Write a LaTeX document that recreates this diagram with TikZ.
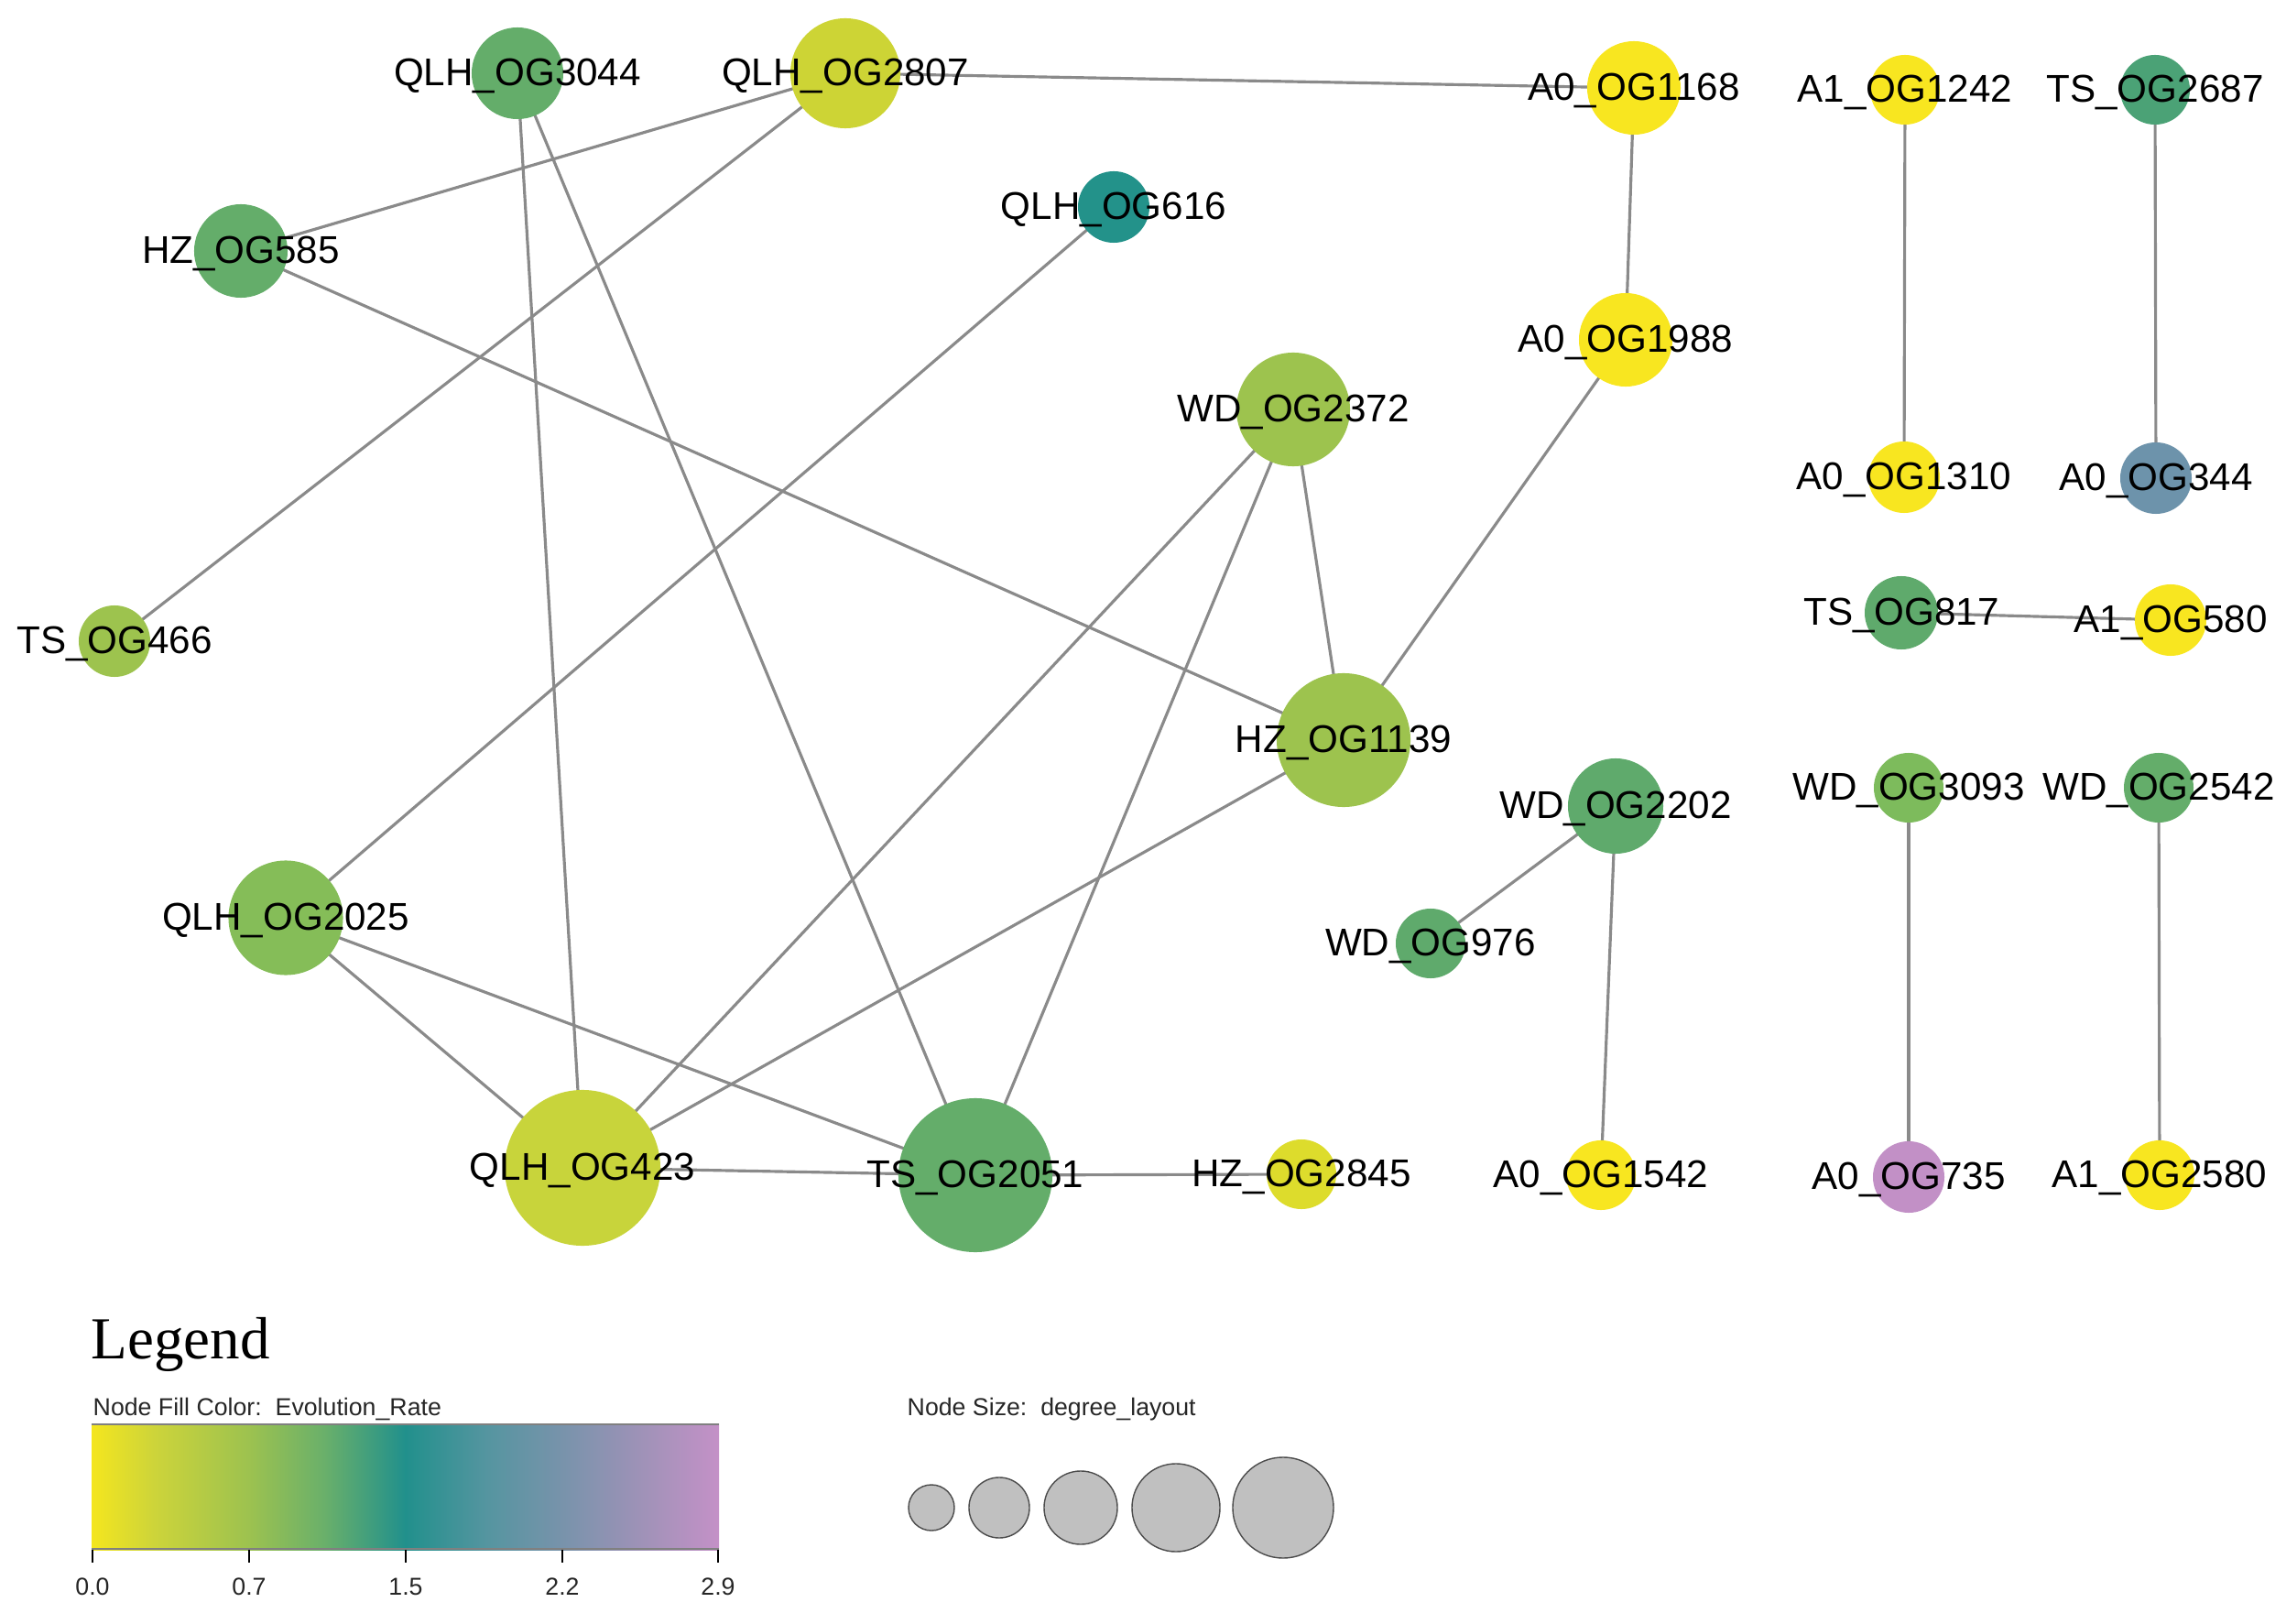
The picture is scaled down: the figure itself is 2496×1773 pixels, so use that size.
\documentclass[tikz,border=0pt]{standalone}
\usepackage{fontspec}
\setmainfont{Liberation Sans}
\newfontfamily\legserif{Liberation Serif}
\usetikzlibrary{backgrounds}
\definecolor{cyel}{HTML}{F8E620}
\definecolor{cyg}{HTML}{CDD435}
\definecolor{cyg2}{HTML}{C8D43B}
\definecolor{cyg3}{HTML}{DDDC2C}
\definecolor{clg}{HTML}{9DC34E}
\definecolor{clg2}{HTML}{85BD58}
\definecolor{clg3}{HTML}{7DBB5C}
\definecolor{cmg}{HTML}{64AD6A}
\definecolor{cmg2}{HTML}{5FAA6C}
\definecolor{ctg}{HTML}{4BA276}
\definecolor{cteal}{HTML}{23928A}
\definecolor{cblue}{HTML}{6D93AB}
\definecolor{cpink}{HTML}{C290C6}
\definecolor{cedge}{HTML}{8A8A8A}
\definecolor{e0}{HTML}{F4E61E}
\definecolor{e1}{HTML}{CDD43A}
\definecolor{e2}{HTML}{9DC24F}
\definecolor{e3}{HTML}{6AB06A}
\definecolor{e4}{HTML}{21908C}
\definecolor{e5}{HTML}{5595A0}
\definecolor{e6}{HTML}{7893AB}
\definecolor{e7}{HTML}{A092B8}
\definecolor{e8}{HTML}{C491C7}
\pgfdeclarehorizontalshading{evoshade}{100bp}{color(0bp)=(e0); color(25bp)=(e0); color(30bp)=(e1); color(37.5bp)=(e2); color(43.5bp)=(e3); color(50bp)=(e4); color(56.5bp)=(e5); color(62.5bp)=(e6); color(69bp)=(e7); color(75bp)=(e8); color(100bp)=(e8)}
\tikzset{
  nd/.style={circle, inner sep=0pt, draw=none},
  lab/.style={font=\fontsize{12}{14}\selectfont, text=black, inner sep=0pt, yshift=-0.03cm},
  edge/.style={draw=cedge, line width=0.9pt},
  small/.style={font=\fontsize{7.6}{9}\selectfont, text=black!85, inner sep=0pt},
  sizec/.style={circle, inner sep=0pt, fill={rgb,255:red,192;green,192;blue,192}, draw=black!70, line width=0.4pt},
}
\begin{document}
\begin{tikzpicture}[x=0.01cm, y=-0.01cm]
\useasboundingbox (0,0) rectangle (2496,1773);
% nodes
\node[nd, minimum size=1.0cm, fill=cmg] (q3044) at (565,80) {};
\node[nd, minimum size=1.2cm, fill=cyg] (q2807) at (923,80) {};
\node[nd, minimum size=1.02cm, fill=cyel] (a1168) at (1784,96) {};
\node[nd, minimum size=0.76cm, fill=cyel] (a1242) at (2080,98) {};
\node[nd, minimum size=0.76cm, fill=ctg] (t2687) at (2353,98) {};
\node[nd, minimum size=0.78cm, fill=cteal] (q616) at (1216,226) {};
\node[nd, minimum size=1.02cm, fill=cmg] (h585) at (263,274) {};
\node[nd, minimum size=1.02cm, fill=cyel] (a1988) at (1775,371) {};
\node[nd, minimum size=1.24cm, fill=clg] (w2372) at (1412,447) {};
\node[nd, minimum size=0.78cm, fill=cyel] (a1310) at (2079,521) {};
\node[nd, minimum size=0.78cm, fill=cblue] (a344) at (2354,522) {};
\node[nd, minimum size=0.78cm, fill=clg] (t466) at (125,700) {};
\node[nd, minimum size=0.8cm, fill=cmg2] (t817) at (2076,669) {};
\node[nd, minimum size=0.78cm, fill=cyel] (a580) at (2370,677) {};
\node[nd, minimum size=1.46cm, fill=clg] (h1139) at (1467,808) {};
\node[nd, minimum size=1.04cm, fill=cmg2] (w2202) at (1764,880) {};
\node[nd, minimum size=0.76cm, fill=clg3] (w3093) at (2084,860) {};
\node[nd, minimum size=0.76cm, fill=cmg] (w2542) at (2357,860) {};
\node[nd, minimum size=1.25cm, fill=clg2] (q2025) at (312,1002) {};
\node[nd, minimum size=0.76cm, fill=cmg2] (w976) at (1562,1030) {};
\node[nd, minimum size=1.7cm, fill=cyg2] (q423) at (636,1275) {};
\node[nd, minimum size=1.68cm, fill=cmg] (t2051) at (1065,1283) {};
\node[nd, minimum size=0.76cm, fill=cyg3] (h2845) at (1421,1282) {};
\node[nd, minimum size=0.76cm, fill=cyel] (a1542) at (1748,1283) {};
\node[nd, minimum size=0.78cm, fill=cpink] (a735) at (2084,1285) {};
\node[nd, minimum size=0.76cm, fill=cyel] (a2580) at (2358,1283) {};
% labels
\node[lab] (lq3044) at (q3044) {QLH\_OG3044};
\node[lab] (lq2807) at (q2807) {QLH\_OG2807};
\node[lab] (la1168) at (a1168) {A0\_OG1168};
\node[lab] (la1242) at (a1242) {A1\_OG1242};
\node[lab] (lt2687) at (t2687) {TS\_OG2687};
\node[lab] (lq616) at (q616) {QLH\_OG616};
\node[lab] (lh585) at (h585) {HZ\_OG585};
\node[lab] (la1988) at (a1988) {A0\_OG1988};
\node[lab] (lw2372) at (w2372) {WD\_OG2372};
\node[lab] (la1310) at (a1310) {A0\_OG1310};
\node[lab] (la344) at (a344) {A0\_OG344};
\node[lab] (lt466) at (t466) {TS\_OG466};
\node[lab] (lt817) at (t817) {TS\_OG817};
\node[lab] (la580) at (a580) {A1\_OG580};
\node[lab] (lh1139) at (h1139) {HZ\_OG1139};
\node[lab] (lw2202) at (w2202) {WD\_OG2202};
\node[lab] (lw3093) at (w3093) {WD\_OG3093};
\node[lab] (lw2542) at (w2542) {WD\_OG2542};
\node[lab] (lq2025) at (q2025) {QLH\_OG2025};
\node[lab] (lw976) at (w976) {WD\_OG976};
\node[lab] (lq423) at (q423) {QLH\_OG423};
\node[lab] (lt2051) at (t2051) {TS\_OG2051};
\node[lab] (lh2845) at (h2845) {HZ\_OG2845};
\node[lab] (la1542) at (a1542) {A0\_OG1542};
\node[lab] (la735) at (a735) {A0\_OG735};
\node[lab] (la2580) at (a2580) {A1\_OG2580};
% edges
\begin{scope}[on background layer]
\draw[edge] (q2807.center) -- (a1168.center);
\draw[edge] (q2807.center) -- (h585.center);
\draw[edge] (q2807.center) -- (t466.center);
\draw[edge] (q3044.center) -- (q423.center);
\draw[edge] (q3044.center) -- (t2051.center);
\draw[edge] (h585.center) -- (h1139.center);
\draw[edge] (q616.center) -- (q2025.center);
\draw[edge] (a1168.center) -- (a1988.center);
\draw[edge] (a1988.center) -- (h1139.center);
\draw[edge] (w2372.center) -- (h1139.center);
\draw[edge] (w2372.center) -- (q423.center);
\draw[edge] (w2372.center) -- (t2051.center);
\draw[edge] (h1139.center) -- (q423.center);
\draw[edge] (q2025.center) -- (q423.center);
\draw[edge] (q2025.center) -- (t2051.center);
\draw[edge] (q423.center) -- (t2051.center);
\draw[edge] (t2051.center) -- (h2845.center);
\draw[edge] (a1242.center) -- (a1310.center);
\draw[edge] (t2687.center) -- (a344.center);
\draw[edge] (t817.center) -- (a580.center);
\draw[edge] (w2202.center) -- (w976.center);
\draw[edge] (w2202.center) -- (a1542.center);
\draw[edge] (w3093.center) -- (a735.center);
\draw[edge] (w2542.center) -- (a2580.center);
\end{scope}
% legend
\node[anchor=base west, inner sep=0pt, font=\legserif\fontsize{18.5}{20}\selectfont] (legtitle) at (99,1483) {Legend};
\node[small, anchor=base west] (fillt) at (101,1545) {Node Fill Color:\ \ Evolution\_Rate};
\node[small, anchor=base west] (sizet) at (990,1545) {Node Size:\ \ degree\_layout};
\shade[shading=evoshade] (100,1554) rectangle (785,1692);
\draw[black!50, line width=0.5pt] (100,1555) -- (785,1555);
\draw[black!50, line width=0.5pt] (100,1691) -- (785,1691);
\foreach \xx/\lbl in {101/0.0, 272/0.7, 443/1.5, 614/2.2, 784/2.9}{
  \draw[black, line width=0.5pt] (\xx,1692) -- (\xx,1706);
  \node[small, anchor=base] at (\xx,1741) {\lbl};
}
\node[sizec, minimum size=0.5cm] (s1) at (1017,1646) {};
\node[sizec, minimum size=0.66cm] (s2) at (1091,1646) {};
\node[sizec, minimum size=0.8cm] (s3) at (1180,1646) {};
\node[sizec, minimum size=0.96cm] (s4) at (1284,1646) {};
\node[sizec, minimum size=1.1cm] (s5) at (1401,1646) {};
\end{tikzpicture}
\end{document}
